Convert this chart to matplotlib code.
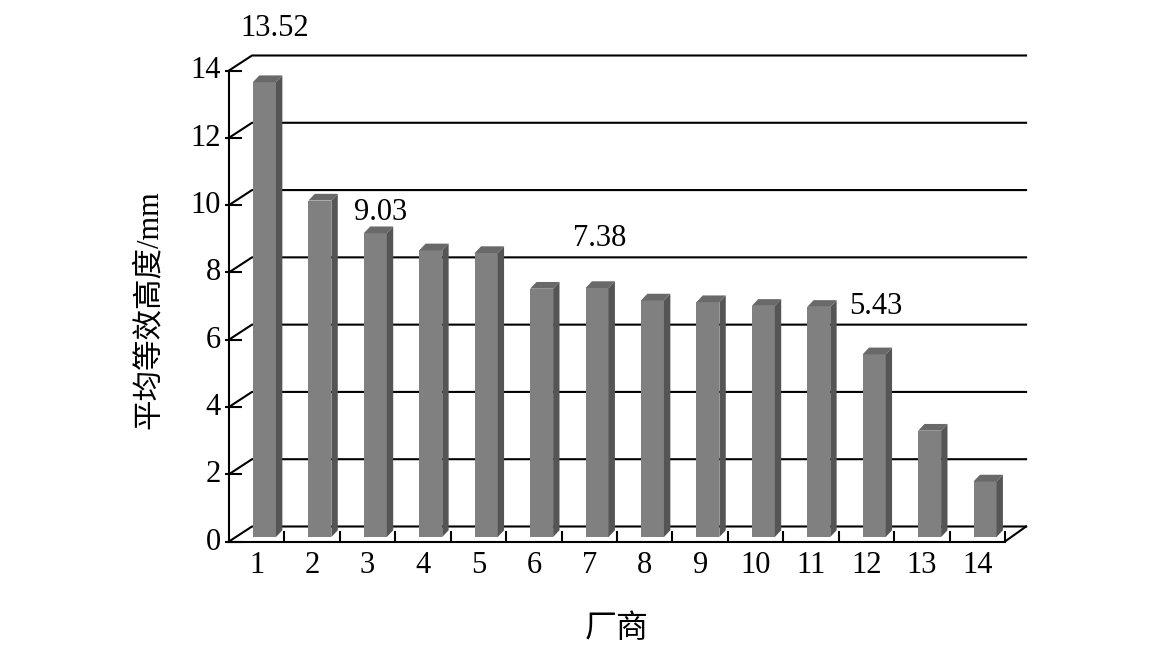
import numpy as np
import matplotlib
matplotlib.use('Agg')
import matplotlib.pyplot as plt
from matplotlib.patches import Polygon
from matplotlib.transforms import Affine2D

plt.rcParams['font.family'] = ['Liberation Serif', 'Noto Sans CJK SC']

# data
vendors = [str(i) for i in range(1, 15)]
heights = [13.52, 10.0, 9.03, 8.52, 8.44, 7.38, 7.40, 7.03, 6.98, 6.87, 6.84, 5.43, 3.16, 1.65]
y_ticks = [0, 2, 4, 6, 8, 10, 12, 14]
labelled = {0: '13.52', 2: '9.03', 6: '7.38', 11: '5.43'}

# fake 3D: how far the back wall and the bars are shifted, in data units
wall_dx, wall_dy = 0.415, 0.446
wall_end = 14.38
side_dx, side_dy = 0.115, 0.2
lift_x, lift_y = 0.14, 0.134
bar_w = 0.415

fig = plt.figure(figsize=(11.73, 6.48), dpi=100)
ax = fig.add_axes([229 / 1173, (648 - 541.5) / 648, 776 / 1173, 471 / 648])
ax.set_xlim(0, 14)
ax.set_ylim(0, 14)
ax.patch.set_visible(False)

# back wall lines
for y in y_ticks:
    ax.plot([0, wall_dx, wall_end], [y, y + wall_dy, y + wall_dy],
            color='black', lw=1.5, clip_on=False, zorder=1)
ax.plot([14, wall_end], [0, wall_dy], color='black', lw=1.5, clip_on=False, zorder=1)

# bars
x = np.arange(len(heights)) + 0.5 + lift_x
ax.bar(x, heights, width=bar_w, bottom=lift_y, color='#808080', clip_on=False, zorder=3)
for xi, h in zip(x, heights):
    l, r = xi - bar_w / 2, xi + bar_w / 2
    top = h + lift_y
    ax.add_patch(Polygon([(r, lift_y), (r + side_dx, lift_y + side_dy),
                          (r + side_dx, top + side_dy), (r, top)],
                         fc='#555555', ec='none', clip_on=False, zorder=3))
    ax.add_patch(Polygon([(l, top), (l + side_dx, top + side_dy),
                          (r + side_dx, top + side_dy), (r, top)],
                         fc='#696969', ec='none', clip_on=False, zorder=3))

# value labels, offsets in pixels from the bar top
offsets = {0: (10, 54), 2: (5, 21), 6: (3, 50), 11: (2, 48)}
for i, txt in labelled.items():
    ax.annotate(txt, (x[i], heights[i] + lift_y), xytext=offsets[i],
                textcoords='offset pixels', ha='center', va='center',
                fontsize=22, annotation_clip=False)

# axes
for s in ['top', 'right']:
    ax.spines[s].set_visible(False)
for s in ['left', 'bottom']:
    ax.spines[s].set_linewidth(1.5)
    ax.spines[s].set_zorder(4)

ax.set_yticks(y_ticks)
ax.tick_params(axis='y', direction='out', length=3, width=1.5, labelsize=22, pad=3)
ax.hlines(y_ticks, 0, 0.235, color='black', lw=1.5, clip_on=False, zorder=4)
for lab in ax.get_yticklabels():
    lab.set_transform(lab.get_transform() + Affine2D().translate(0, 3))

ax.set_xticks(np.arange(1, 15))
ax.set_xticklabels([])
ax.set_xticks(np.arange(len(vendors)) + 0.5, minor=True)
ax.set_xticklabels(vendors, minor=True)
ax.tick_params(axis='x', which='major', direction='in', length=8, width=1.5)
ax.tick_params(axis='x', which='minor', length=0, labelsize=22, pad=7)

ax.set_ylabel('平均等效高度/mm', fontsize=22, va='center')
ax.yaxis.set_label_coords(-0.102, 0.4926)
ax.set_xlabel('厂商', fontsize=23, va='center')
ax.xaxis.set_label_coords(0.5, -0.187)

plt.savefig('out.png', dpi=100)
